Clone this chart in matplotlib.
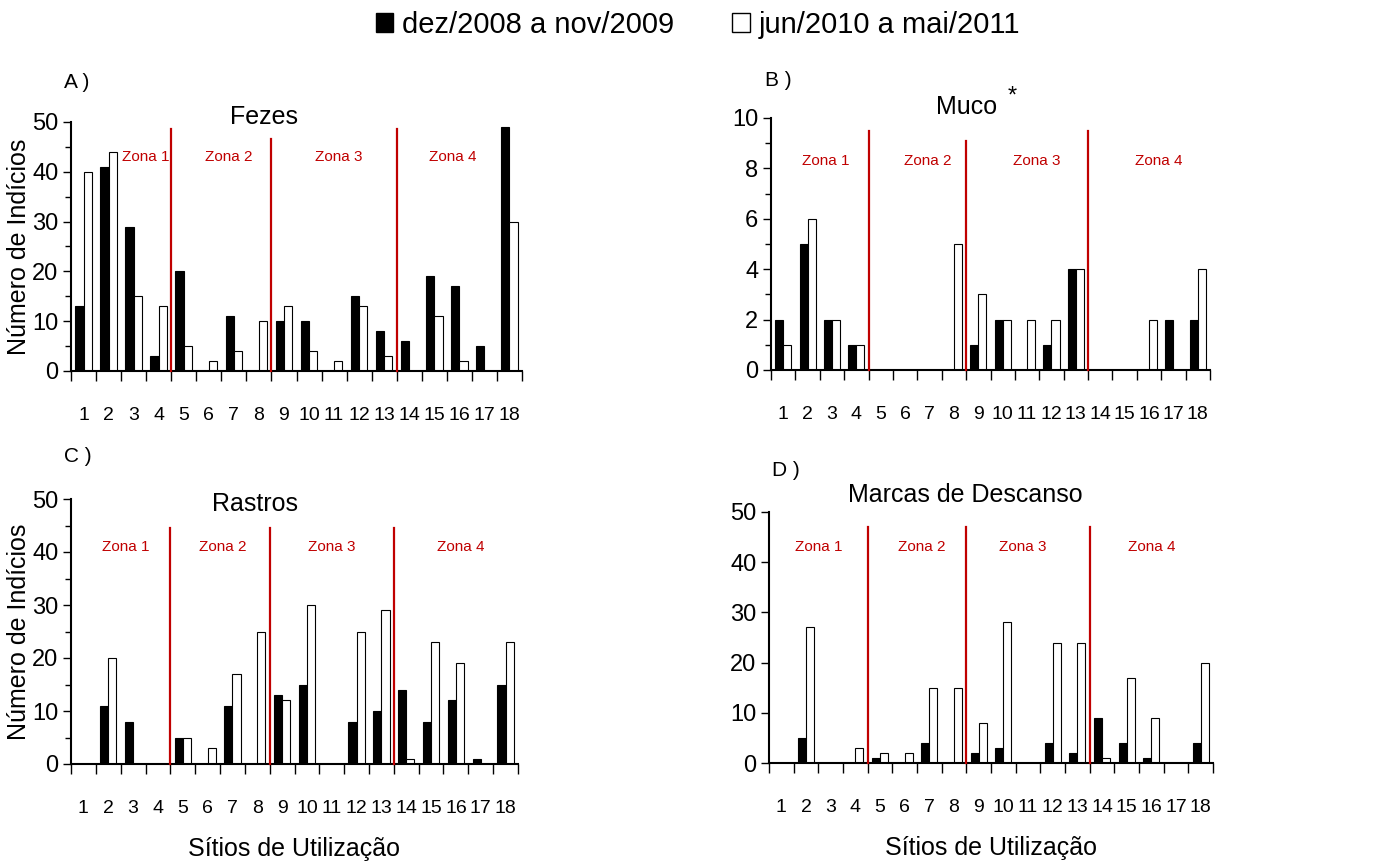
import matplotlib
matplotlib.use("Agg")
import matplotlib.pyplot as plt
import matplotlib.patches as mpatches
import numpy as np

plt.rcParams['font.family'] = ['Liberation Sans', 'DejaVu Sans']

SITES = list(range(1, 19))
SITE_LABELS = [str(s) for s in SITES]
SERIES_NAMES = ["dez/2008 a nov/2009", "jun/2010 a mai/2011"]
ZONES = ["Zona 1", "Zona 2", "Zona 3", "Zona 4"]
ZONE_BOUNDS = [4.5, 8.5, 13.5]

fezes_0809 = [13, 41, 29, 3, 20, 0, 11, 0, 10, 10, 0, 15, 8, 6, 19, 17, 5, 49]
fezes_1011 = [40, 44, 15, 13, 5, 2, 4, 10, 13, 4, 2, 13, 3, 0, 11, 2, 0, 30]

muco_0809 = [2, 5, 2, 1, 0, 0, 0, 0, 1, 2, 0, 1, 4, 0, 0, 0, 2, 2]
muco_1011 = [1, 6, 2, 1, 0, 0, 0, 5, 3, 2, 2, 2, 4, 0, 0, 2, 0, 4]

rastros_0809 = [0, 11, 8, 0, 5, 0, 11, 0, 13, 15, 0, 8, 10, 14, 8, 12, 1, 15]
rastros_1011 = [0, 20, 0, 0, 5, 3, 17, 25, 12, 30, 0, 25, 29, 1, 23, 19, 0, 23]

descanso_0809 = [0, 5, 0, 0, 1, 0, 4, 0, 2, 3, 0, 4, 2, 9, 4, 1, 0, 4]
descanso_1011 = [0, 27, 0, 3, 2, 2, 15, 15, 8, 28, 0, 24, 24, 1, 17, 9, 0, 20]

RED = "#c00000"
W, H = 1381, 868


def px_axes(fig, left, right, top, bottom):
    return fig.add_axes([left / W, (H - bottom) / H, (right - left) / W, (bottom - top) / H])


def panel(ax, a, b, ymax, ystep, title, title_xy, letter, letter_px, zone_x, zone_y, line_tops,
          minor=True, xlabel=False, ylabel=True):
    x = np.array(SITES, dtype=float)
    bw = 0.33
    ax.bar(x - bw / 2, a, width=bw, color="black", edgecolor="black", linewidth=0.8)
    ax.bar(x + bw / 2, b, width=bw, color="white", edgecolor="black", linewidth=0.8)

    ax.set_xlim(0.5, 18.5)
    ax.set_ylim(0, ymax)
    for s in ["top", "right"]:
        ax.spines[s].set_visible(False)
    for s in ["left", "bottom"]:
        ax.spines[s].set_linewidth(1.5)

    ax.set_xticks(np.arange(0.5, 19, 1))
    ax.set_xticklabels([])
    ax.set_xticks(x, minor=True)
    ax.set_xticklabels(SITE_LABELS, minor=True)
    ax.tick_params(axis="x", which="major", direction="out", length=7, width=1)
    ax.tick_params(axis="x", which="minor", length=0, pad=26, labelsize=14)

    ax.set_yticks(np.arange(0, ymax + 0.01, ystep))
    if minor:
        ax.set_yticks(np.arange(ystep / 2, ymax, ystep), minor=True)
    ax.tick_params(axis="y", which="major", direction="out", length=6, width=1, labelsize=17, pad=3)
    ax.tick_params(axis="y", which="minor", direction="out", length=4, width=1)

    for bx, top in zip(ZONE_BOUNDS, line_tops):
        ax.plot([bx, bx], [0, top], color=RED, linewidth=1.6, clip_on=False, zorder=3)
    for zx, zname in zip(zone_x, ZONES):
        ax.text(zx, zone_y, zname, color=RED, fontsize=11, ha="center", va="center")

    ax.text(title_xy[0], title_xy[1], title, fontsize=18, ha="center", va="center", clip_on=False)
    ax.text(letter_px[0] / W, 1 - letter_px[1] / H, letter, fontsize=15, ha="left", va="center",
            transform=ax.figure.transFigure)
    if ylabel:
        ax.set_ylabel("Número de Indícios", fontsize=18)
        bbox = ax.get_position()
        ax.yaxis.set_label_coords((31 / W - bbox.x0) / bbox.width, 0.5)
    if xlabel:
        ax.set_xlabel("Sítios de Utilização", fontsize=18, labelpad=14)


fig = plt.figure(figsize=(W / 100, H / 100), dpi=100)

axA = px_axes(fig, 71, 522, 122, 371)
panel(axA, fezes_0809, fezes_1011, 50, 10, "Fezes", (8.2, 51.0), "A )", (64, 83),
      [3.5, 6.8, 11.2, 15.75], 43, [48.5, 46.5, 48.5])

axB = px_axes(fig, 771, 1210, 118, 370)
panel(axB, muco_0809, muco_1011, 10, 2, "Muco", (8.5, 10.45), "B )", (765, 80),
      [2.75, 6.94, 11.4, 16.4], 8.3, [9.5, 9.1, 9.5], ylabel=False)
axB.text(10.38, 10.85, "*", fontsize=17, ha="center", va="center")

axC = px_axes(fig, 71, 518, 499, 764)
panel(axC, rastros_0809, rastros_1011, 50, 10, "Rastros", (7.9, 49.0), "C )", (64, 457),
      [2.7, 6.6, 11.0, 16.2], 41, [44.5, 44.5, 44.5], xlabel=True)

axD = px_axes(fig, 769, 1213, 512, 763)
panel(axD, descanso_0809, descanso_1011, 50, 10, "Marcas de Descanso", (8.45, 53.3), "D )",
      (772, 470), [2.5, 6.7, 10.8, 16.0], 43, [47, 47, 47],
      minor=False, xlabel=True, ylabel=False)

handles = [mpatches.Patch(facecolor="black", edgecolor="black", label=SERIES_NAMES[0]),
           mpatches.Patch(facecolor="white", edgecolor="black", label=SERIES_NAMES[1])]
fig.legend(handles=handles, loc="center", bbox_to_anchor=(698 / W, 1 - 25 / H), ncol=2,
           frameon=False, fontsize=21, handlelength=0.6, handleheight=0.6, handletextpad=0.3,
           columnspacing=2.0)

fig.savefig("out.png", dpi=100)
